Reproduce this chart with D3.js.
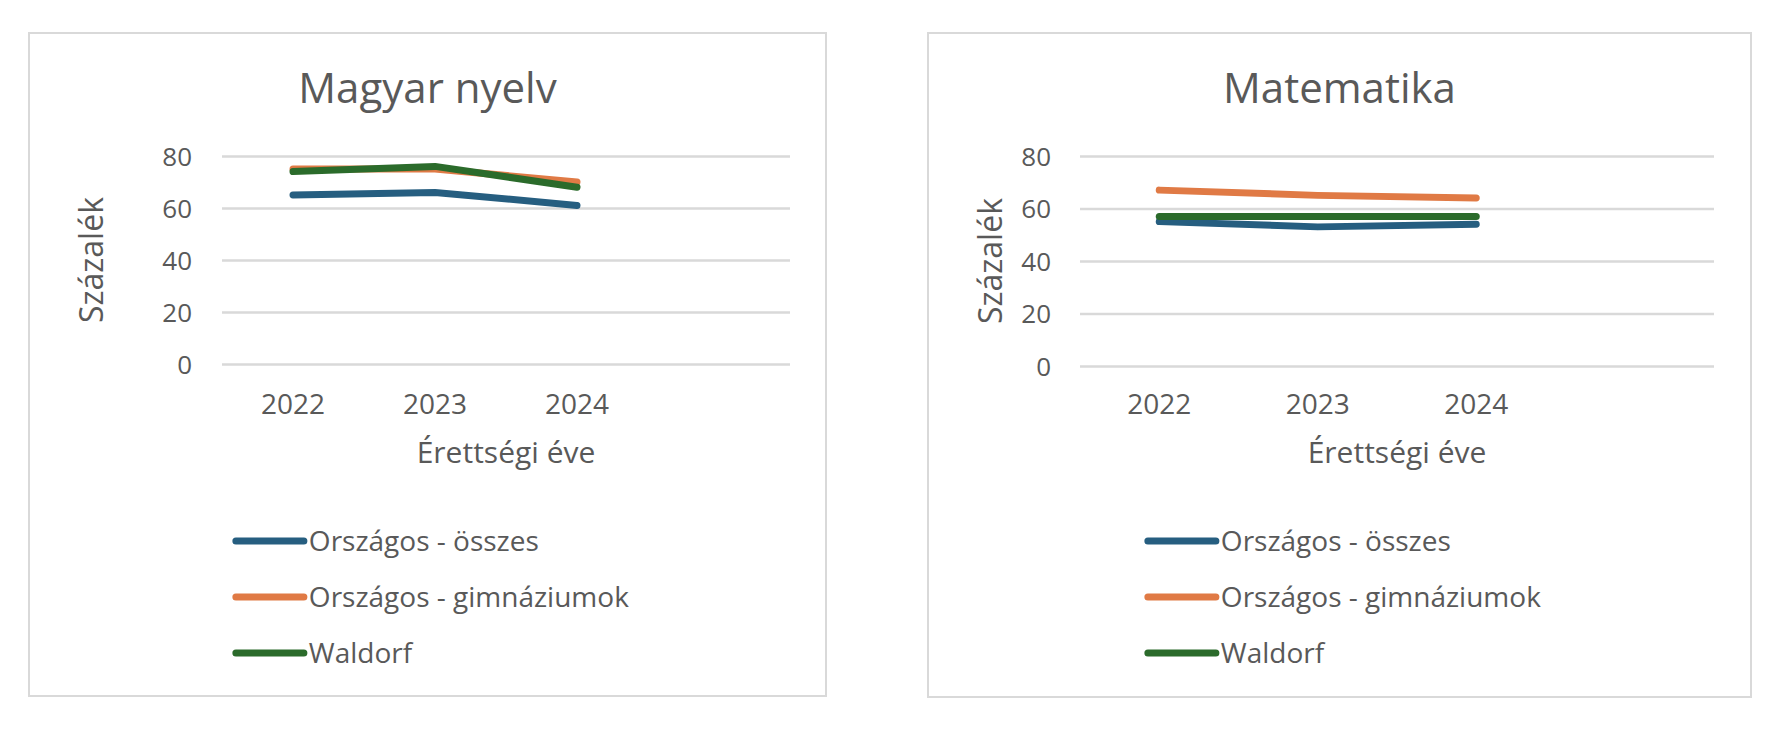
<!DOCTYPE html>
<html>
<head>
<meta charset="utf-8">
<script src="https://cdn.jsdelivr.net/npm/d3@7/dist/d3.min.js"></script>
<style>
  html, body { margin: 0; padding: 0; background: #fff; }
  svg { display: block; font-family: "Open Sans", "Noto Sans", sans-serif; }
</style>
</head>
<body>
<svg id="chart" width="1788" height="744"></svg>
<script>
// ---- data ----
const categories = ["2022", "2023", "2024", ""];
const yTicks = [0, 20, 40, 60, 80];
const seriesNames = ["Országos - összes", "Országos - gimnáziumok", "Waldorf"];
const seriesColors = ["#265E80", "#E07A45", "#2B6B2B"];

const magyarOsszes = [65, 66, 61, null];
const magyarGimnazium = [75, 75, 70, null];
const magyarWaldorf = [74, 76, 68, null];

const matekOsszes = [55, 53, 54, null];
const matekGimnazium = [67, 65, 64, null];
const matekWaldorf = [57, 57, 57, null];

const chartTitles = ["Magyar nyelv", "Matematika"];
const yTitle = "Százalék";
const xTitle = "Érettségi éve";

// ---- layout ----
const panels = [
  { title: chartTitles[0], series: [magyarOsszes, magyarGimnazium, magyarWaldorf],
    box: [29, 33, 826, 696], plot: [222, 156, 790, 364], yLabelX: 192, yTitleX: 92 },
  { title: chartTitles[1], series: [matekOsszes, matekGimnazium, matekWaldorf],
    box: [928, 33, 1751, 697], plot: [1080, 156, 1714, 366], yLabelX: 1051, yTitleX: 991 }
];

const svg = d3.select("#chart");
const textColor = "#595959";

panels.forEach(p => {
  const g = svg.append("g");
  const [bx0, by0, bx1, by1] = p.box;
  const [px0, py0, px1, py1] = p.plot;

  g.append("rect")
    .attr("x", bx0).attr("y", by0)
    .attr("width", bx1 - bx0).attr("height", by1 - by0)
    .attr("fill", "#fff").attr("stroke", "#d9d9d9").attr("stroke-width", 2);

  // title
  g.append("text")
    .attr("x", (bx0 + bx1) / 2).attr("y", 103)
    .attr("text-anchor", "middle")
    .attr("font-size", 42).attr("fill", textColor)
    .text(p.title);

  const x = d3.scaleBand().domain(categories).range([px0, px1]);
  const y = d3.scaleLinear().domain([0, 80]).range([py1, py0]);

  // gridlines + y labels via axis
  const yAxis = d3.axisLeft(y).tickValues(yTicks).tickSize(-(px1 - px0)).tickPadding(px0 - p.yLabelX);
  const ya = g.append("g").attr("transform", `translate(${px0},0)`).call(yAxis);
  ya.select(".domain").remove();
  ya.selectAll(".tick line").attr("stroke", "#d9d9d9").attr("stroke-width", 2.5);
  ya.selectAll(".tick text").attr("fill", textColor).attr("font-size", 26)
    .attr("font-family", "Open Sans, sans-serif").attr("dy", "0.35em");

  // x labels via axis
  const xAxis = d3.axisBottom(x).tickSize(0).tickPadding(0);
  const xa = g.append("g").attr("transform", `translate(0,${py1})`).call(xAxis);
  xa.select(".domain").remove();
  xa.selectAll(".tick text").attr("fill", textColor).attr("font-size", 28)
    .attr("font-family", "Open Sans, sans-serif")
    .attr("dy", null).attr("y", 414 - py1);

  // axis titles
  g.append("text")
    .attr("transform", `translate(${p.yTitleX + 11},${(py0 + py1) / 2}) rotate(-90)`)
    .attr("text-anchor", "middle")
    .attr("font-size", 32).attr("fill", textColor)
    .text(yTitle);
  g.append("text")
    .attr("x", (px0 + px1) / 2).attr("y", 463)
    .attr("text-anchor", "middle")
    .attr("font-size", 30).attr("fill", textColor)
    .text(xTitle);

  // lines
  const line = d3.line()
    .defined(d => d.v !== null)
    .x(d => x(d.c) + x.bandwidth() / 2)
    .y(d => y(d.v));
  p.series.forEach((s, i) => {
    const pts = categories.map((c, j) => ({ c, v: s[j] }));
    g.append("path")
      .attr("d", line(pts))
      .attr("fill", "none")
      .attr("stroke", seriesColors[i])
      .attr("stroke-width", 7)
      .attr("stroke-linecap", "round")
      .attr("stroke-linejoin", "round");
  });

  // legend
  const lg = g.append("g");
  seriesNames.forEach((n, i) => {
    const it = lg.append("g").attr("transform", `translate(0,${541 + i * 56})`);
    it.append("line").attr("x1", 0).attr("x2", 68).attr("y1", 0).attr("y2", 0)
      .attr("stroke", seriesColors[i]).attr("stroke-width", 7).attr("stroke-linecap", "round");
    it.append("text").attr("x", 73).attr("y", 10)
      .attr("font-size", 28).attr("fill", textColor).text(n);
  });
  const bb = lg.node().getBBox();
  const cx = (bx0 + bx1) / 2 + 5;
  lg.attr("transform", `translate(${cx - bb.width / 2},0)`);
});
</script>
</body>
</html>
